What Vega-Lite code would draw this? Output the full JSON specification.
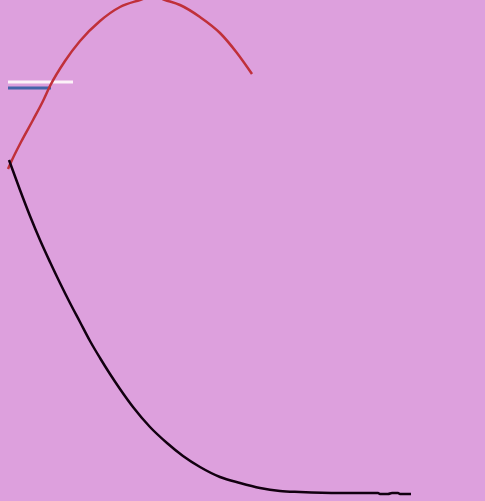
{
  "$schema": "https://vega.github.io/schema/vega-lite/v6.json",
  "autosize": {"type": "fit", "contains": "padding"},
  "width": 485,
  "height": 501,
  "padding": 0,
  "background": "#DDA0DD",
  "config": {"view": {"stroke": null}},
  "datasets": {
    "segments": [
      {"series": "white", "x": 8, "y": 82},
      {"series": "white", "x": 73, "y": 82},
      {"series": "blue", "x": 8, "y": 88},
      {"series": "blue", "x": 51, "y": 88}
    ],
    "red": [
      {"x": 8, "y": 169}, {"x": 12, "y": 160}, {"x": 21, "y": 142}, {"x": 33, "y": 120},
      {"x": 43, "y": 101}, {"x": 50, "y": 86}, {"x": 65, "y": 61}, {"x": 80, "y": 41},
      {"x": 100, "y": 21}, {"x": 120, "y": 7}, {"x": 140, "y": 0}, {"x": 153, "y": -4},
      {"x": 165, "y": 0}, {"x": 180, "y": 5}, {"x": 200, "y": 17}, {"x": 220, "y": 33},
      {"x": 237, "y": 53}, {"x": 252, "y": 74}
    ],
    "black": [
      {"x": 9, "y": 160}, {"x": 20, "y": 190}, {"x": 30, "y": 216}, {"x": 40, "y": 240},
      {"x": 50, "y": 262}, {"x": 60, "y": 283}, {"x": 70, "y": 303}, {"x": 80, "y": 322},
      {"x": 90, "y": 341}, {"x": 100, "y": 358}, {"x": 110, "y": 374}, {"x": 120, "y": 389},
      {"x": 133, "y": 407}, {"x": 150, "y": 427}, {"x": 167, "y": 443}, {"x": 183, "y": 456},
      {"x": 200, "y": 467}, {"x": 220, "y": 477}, {"x": 240, "y": 483}, {"x": 260, "y": 488},
      {"x": 280, "y": 491}, {"x": 300, "y": 492}, {"x": 340, "y": 493}, {"x": 378, "y": 493},
      {"x": 380, "y": 494}, {"x": 388, "y": 494}, {"x": 392, "y": 493}, {"x": 398, "y": 493},
      {"x": 400, "y": 494}, {"x": 411, "y": 494}
    ]
  },
  "encoding": {
    "x": {"field": "x", "type": "quantitative", "scale": {"domain": [0, 485], "nice": false, "zero": false}, "axis": null},
    "y": {"field": "y", "type": "quantitative", "scale": {"domain": [0, 501], "nice": false, "zero": false, "reverse": true}, "axis": null}
  },
  "layer": [
    {
      "data": {"name": "segments"},
      "mark": {"type": "line", "strokeWidth": 3, "strokeCap": "butt"},
      "encoding": {
        "detail": {"field": "series"},
        "color": {"field": "series", "type": "nominal", "scale": {"domain": ["white", "blue"], "range": ["#FCF2F8", "#4563A8"]}, "legend": null}
      }
    },
    {
      "data": {"name": "red"},
      "mark": {"type": "line", "color": "#C0303A", "strokeWidth": 2.5, "clip": true, "interpolate": "monotone"}
    },
    {
      "data": {"name": "black"},
      "mark": {"type": "line", "color": "#120010", "strokeWidth": 2.5, "clip": true, "interpolate": "monotone"}
    }
  ]
}
